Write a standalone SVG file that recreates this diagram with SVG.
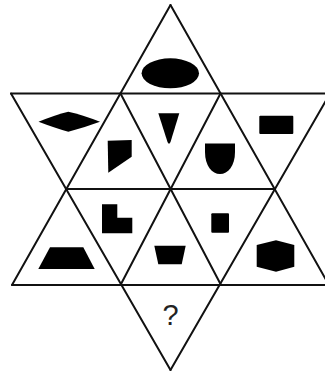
<svg xmlns="http://www.w3.org/2000/svg" width="325" height="371" viewBox="0 0 325 371">
<style>
.ln{stroke:#111;stroke-width:2;fill:none;stroke-linecap:round}
.sh{fill:#000}
.q{font-family:"Liberation Sans",Arial,sans-serif;font-size:29px;fill:#222;text-anchor:middle}
</style>
<rect width="325" height="371" fill="#fff"/>
<g id="connectors">
<line class="ln" x1="170.5" y1="5" x2="12" y2="285"/>
<line class="ln" x1="170.5" y1="5" x2="329" y2="285"/>
<line class="ln" x1="11" y1="93.5" x2="170.5" y2="370"/>
<line class="ln" x1="330" y1="93.5" x2="170.5" y2="370"/>
<line class="ln" x1="11" y1="93.5" x2="330" y2="93.5"/>
<line class="ln" x1="12" y1="285" x2="329" y2="285"/>
<line class="ln" x1="66.5" y1="189" x2="275" y2="189"/>
<line class="ln" x1="120.5" y1="93.5" x2="221" y2="285"/>
<line class="ln" x1="220.5" y1="93.5" x2="120.5" y2="285"/>
</g>
<g id="ellipse"><ellipse class="sh" cx="170.3" cy="73.3" rx="28.7" ry="15"/></g>
<g id="diamond"><path class="sh" d="M38.5,121.7 Q55,115 68.3,111.7 Q83,115 100,121.7 Q83,128 68.3,131.7 Q55,128 38.5,121.7 Z"/></g>
<g id="rectangle"><rect class="sh" x="259.3" y="115.7" width="34" height="18.3" rx="1"/></g>
<g id="quad"><polygon class="sh" points="107.7,140.7 131.7,140 131.7,156.7 108.3,172.7"/></g>
<g id="wedge"><path class="sh" d="M158.3,113.3 H179.3 L170.5,142 Q169,145.5 167.5,142 Z"/></g>
<g id="ushape"><path class="sh" d="M205,143.5 H235 V152 C235,166 228,174 220,174 C212,174 205,166 205,152 Z"/></g>
<g id="lshape"><polygon class="sh" points="102,204.3 117.3,204.3 117.3,217.7 132.3,217.7 132.3,233.3 102,233.3"/></g>
<g id="square"><rect class="sh" x="211.3" y="213.3" width="17.7" height="19.4" rx="1"/></g>
<g id="trapezoid"><polygon class="sh" points="50,247.3 83.3,247.3 94.7,269 38.3,269"/></g>
<g id="trapezoid2"><polygon class="sh" points="154.3,245.7 185.7,245.7 181.7,264.3 158.3,264.3"/></g>
<g id="hexagon"><polygon class="sh" points="276,240.3 294.3,245 294.3,266.7 276,271.7 256.7,266.7 256.7,245"/></g>
<g id="question"><text class="q" x="170.5" y="325">?</text></g>
</svg>
